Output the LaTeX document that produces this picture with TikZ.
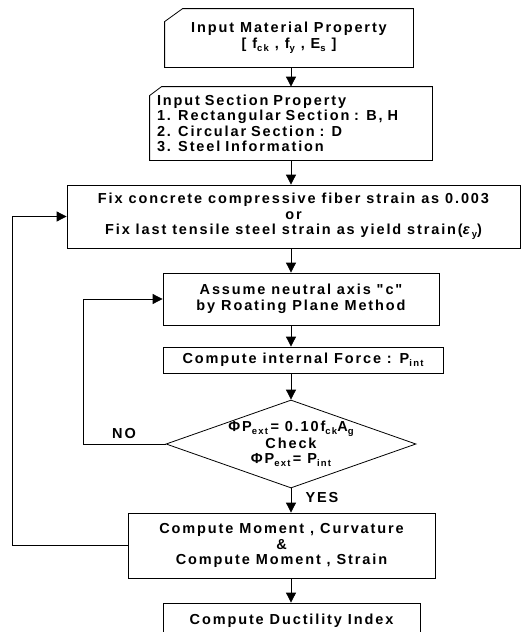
\documentclass[tikz,border=0pt]{standalone}
\usepackage{fontspec}
\setmainfont{Liberation Sans}
\newfontfamily\flowfont[LetterSpace=13]{Liberation Sans}
\usetikzlibrary{arrows.meta,shapes.geometric,positioning}

\newcommand{\lowidx}[1]{\raisebox{-0.4ex}{\fontsize{9.5}{9.5}\selectfont #1}}

\tikzset{
  box/.style={draw, line width=0.8pt, align=center, inner sep=0pt},
  line/.style={line width=0.8pt},
  arr/.style={-{Triangle[width=10pt,length=10pt]}, line width=0.8pt},
  every node/.style={font=\flowfont\bfseries\fontsize{14.5}{15.5}\selectfont},
}

\begin{document}
\begin{tikzpicture}[x=1pt,y=-1pt]
      \useasboundingbox (0,0) rectangle (528,632);
      \clip (0,0) rectangle (528,632);

      \node[box, draw=none, minimum width=248pt, minimum height=58pt] (b1) at (289,38)
        {Input Material Property\\{}[ f\lowidx{ck} , f\lowidx{y} , E\lowidx{s} ]};
      \draw[line] ([xshift=18pt]b1.north west) -- (b1.north east) -- (b1.south east)
        -- (b1.south west) -- ([yshift=-13pt]b1.north west) -- cycle;

      \node[box, draw=none, align=left, text width=268pt, inner xsep=7pt, minimum height=73pt] (b2) at (291,123.5)
        {Input Section Property\\1. Rectangular Section : B, H\\2. Circular Section : D\\3. Steel Information};
      \draw[line] ([xshift=12pt]b2.north west) -- (b2.north east) -- (b2.south east)
        -- (b2.south west) -- ([yshift=-9pt]b2.north west) -- cycle;

      \node[box, minimum width=453pt, minimum height=63pt] (b3) at (293.5,216.5)
        {Fix concrete compressive fiber strain as 0.003\\or\\Fix last tensile steel strain as yield strain(\textit{ε}\lowidx{y})};

      \node[box, minimum width=276pt, minimum height=52pt] (b4) at (301,299)
        {Assume neutral axis "c"\\by Roating Plane Method};

      \node[box, minimum width=280pt, minimum height=26pt] (b5) at (303,360)
        {Compute internal Force : P\lowidx{int}};

      \node[box, shape=diamond, aspect=2.85, minimum width=250pt, minimum height=88pt] (dia) at (291,444) {};
      \node[align=center] (chk) at (dia.center)
        {ΦP\lowidx{ext}\,= 0.10f\lowidx{ck}A\lowidx{g}\\Check\\ΦP\lowidx{ext}\,= P\lowidx{int}};

      \node[box, minimum width=307pt, minimum height=65pt] (b6) at (281.5,545.5)
        {Compute Moment , Curvature\\\&\\Compute Moment , Strain};

      \node[box, minimum width=257pt, minimum height=36pt] (b7) at (291.5,621)
        {Compute Ductility Index};

      \node (yes) at (322,498) {YES};
      \node (no) at (124,434) {NO};

      \draw[arr] (b1.south -| dia.north) -- (b2.north -| dia.north);
      \draw[arr] (b2.south -| dia.north) -- (b3.north -| dia.north);
      \draw[arr] (b3.south -| dia.north) -- (b4.north -| dia.north);
      \draw[arr] (b4.south -| dia.north) -- (b5.north -| dia.north);
      \draw[arr] (b5.south -| dia.north) -- (dia.north);
      \draw[arr] (dia.south) -- (b6.north -| dia.south);
      \draw[arr] (b6.south -| dia.south) -- (b7.north -| dia.south);

      \draw[arr] (dia.west) -- ++(-82,0) |- (b4.west);
      \draw[arr] (b6.west) -- ++(-115,0) |- (b3.west);
\end{tikzpicture}
\end{document}
